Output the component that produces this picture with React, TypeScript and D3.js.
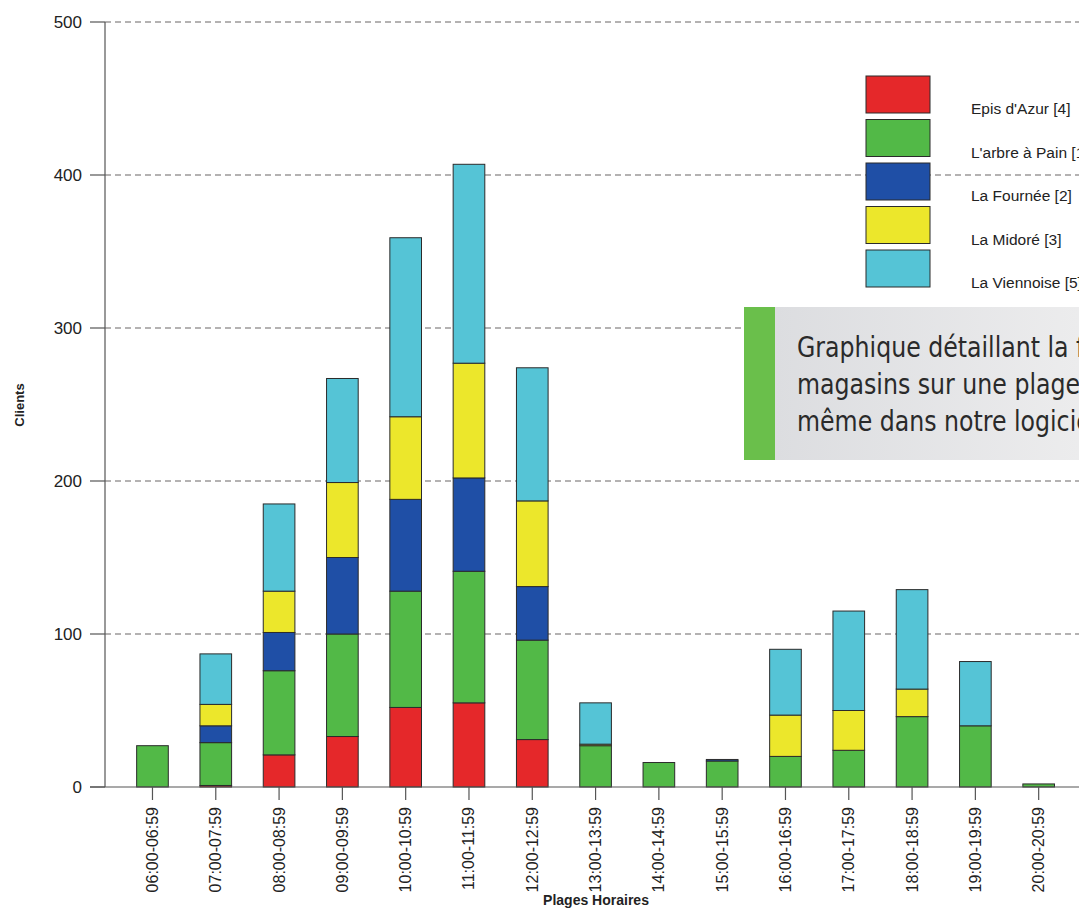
import React from 'react';
import * as d3 from 'd3';

// time slots on the x axis
const slots = [
  '06:00-06:59', '07:00-07:59', '08:00-08:59', '09:00-09:59', '10:00-10:59',
  '11:00-11:59', '12:00-12:59', '13:00-13:59', '14:00-14:59', '15:00-15:59',
  '16:00-16:59', '17:00-17:59', '18:00-18:59', '19:00-19:59', '20:00-20:59',
];

// clients per shop, stacked bottom to top
const episAzur = [0, 1, 21, 33, 52, 55, 31, 0, 0, 0, 0, 0, 0, 0, 0];
const arbreAPain = [27, 28, 55, 67, 76, 86, 65, 27, 16, 17, 20, 24, 46, 40, 2];
const laFournee = [0, 11, 25, 50, 60, 61, 35, 0, 0, 1, 0, 0, 0, 0, 0];
const laMidore = [0, 14, 27, 49, 54, 75, 56, 1, 0, 0, 27, 26, 18, 0, 0];
const laViennoise = [0, 33, 57, 68, 117, 130, 87, 27, 0, 0, 43, 65, 65, 42, 0];

const shopNames = ["Epis d'Azur [4]", "L'arbre à Pain [1]", 'La Fournée [2]', 'La Midoré [3]', 'La Viennoise [5]'];
const shopColors = ['#e5282a', '#52b947', '#1f4fa6', '#ece72b', '#55c4d6'];
const yTicks = [0, 100, 200, 300, 400, 500];

const calloutLines = [
  'Graphique détaillant la fréquentation des',
  'magasins sur une plage horaire, réalisé de',
  'même dans notre logiciel',
];

const W = 1079;
const H = 908;
const font = 'Liberation Sans, Arial, sans-serif';

export default function App() {
  const series = [episAzur, arbreAPain, laFournee, laMidore, laViennoise];
  const rows = slots.map((s, i) => {
    const r: any = { slot: s };
    series.forEach((vals, k) => (r['k' + k] = vals[i]));
    return r;
  });
  const keys = series.map((_, k) => 'k' + k);
  const stacked = d3.stack<any>().keys(keys)(rows);

  const x = d3.scaleBand<string>()
    .domain(slots)
    .range([105, 105 + 15.5 * 63.3])
    .paddingInner(0.5)
    .paddingOuter(0.5);

  const y = d3.scaleLinear().domain([0, 500]).range([787, 22]);

  return (
    <svg width={W} height={H} style={{ position: 'absolute', left: 0, top: 0, background: '#fff' }}
      fontFamily={font}>
      {/* grid */}
      {yTicks.filter(t => t > 0).map(t => (
        <line key={'g' + t} x1={105} x2={W} y1={y(t)} y2={y(t)}
          stroke="#6b6666" strokeWidth={1.2} strokeDasharray="6,4" />
      ))}
      {/* y ticks + labels */}
      {yTicks.map(t => (
        <g key={'t' + t}>
          <line x1={90} x2={105} y1={y(t)} y2={y(t)} stroke="#555" strokeWidth={1.2} />
          <text x={82} y={y(t)} textAnchor="end" dominantBaseline="central" fontSize={17} fill="#222">{t}</text>
        </g>
      ))}
      <line x1={105} x2={105} y1={y(500)} y2={y(0)} stroke="#555" strokeWidth={1.2} />
      <text transform={`translate(19,405) rotate(-90)`} textAnchor="middle" dominantBaseline="central"
        fontSize={13} fontWeight="bold" fill="#222">Clients</text>

      {/* bars */}
      {stacked.map((layer, k) => (
        <g key={'s' + k} fill={shopColors[k]} stroke="#2b2b2b" strokeWidth={1}>
          {layer.map((d, i) => d[1] - d[0] > 0 ? (
            <rect key={i} x={x(slots[i])} width={x.bandwidth()}
              y={y(d[1])} height={y(d[0]) - y(d[1])} />
          ) : null)}
        </g>
      ))}

      {/* x axis */}
      <line x1={90} x2={W} y1={y(0)} y2={y(0)} stroke="#555" strokeWidth={1.2} />
      {slots.map(s => {
        const cx = (x(s) as number) + x.bandwidth() / 2;
        return (
          <g key={'x' + s}>
            <line x1={cx} x2={cx} y1={y(0)} y2={y(0) + 13} stroke="#555" strokeWidth={1.2} />
            <text transform={`translate(${cx},807) rotate(-90)`} textAnchor="end" dominantBaseline="central"
              fontSize={16} fill="#222">{s}</text>
          </g>
        );
      })}
      <text x={596} y={900} textAnchor="middle" dominantBaseline="central" fontSize={14}
        fontWeight="bold" fill="#222">Plages Horaires</text>

      {/* legend */}
      {shopNames.map((n, k) => {
        const top = 76 + k * 43.5;
        return (
          <g key={'l' + k}>
            <rect x={866} y={top} width={64} height={37} fill={shopColors[k]} stroke="#2b2b2b" strokeWidth={1} />
            <text x={971} y={top + 18.5 + 14} dominantBaseline="central" fontSize={15.5} fill="#222">{n}</text>
          </g>
        );
      })}

      {/* callout */}
      <defs>
        <linearGradient id="cg" x1="0" x2="1" y1="0" y2="0">
          <stop offset="0" stopColor="#dcdde0" />
          <stop offset="1" stopColor="#ececed" />
        </linearGradient>
      </defs>
      <rect x={775} y={307} width={W - 775} height={153} fill="url(#cg)" />
      <rect x={744} y={307} width={31} height={153} fill="#6abf4b" />
      {calloutLines.map((l, i) => (
        <text key={'c' + i} transform={`translate(797,${347 + i * 37}) scale(0.907,1)`} dominantBaseline="central"
          fontFamily="'DejaVu Sans Condensed', 'Liberation Sans Narrow', sans-serif"
          fontSize={29} fill="#2a2a2a">{l}</text>
      ))}
    </svg>
  );
}
